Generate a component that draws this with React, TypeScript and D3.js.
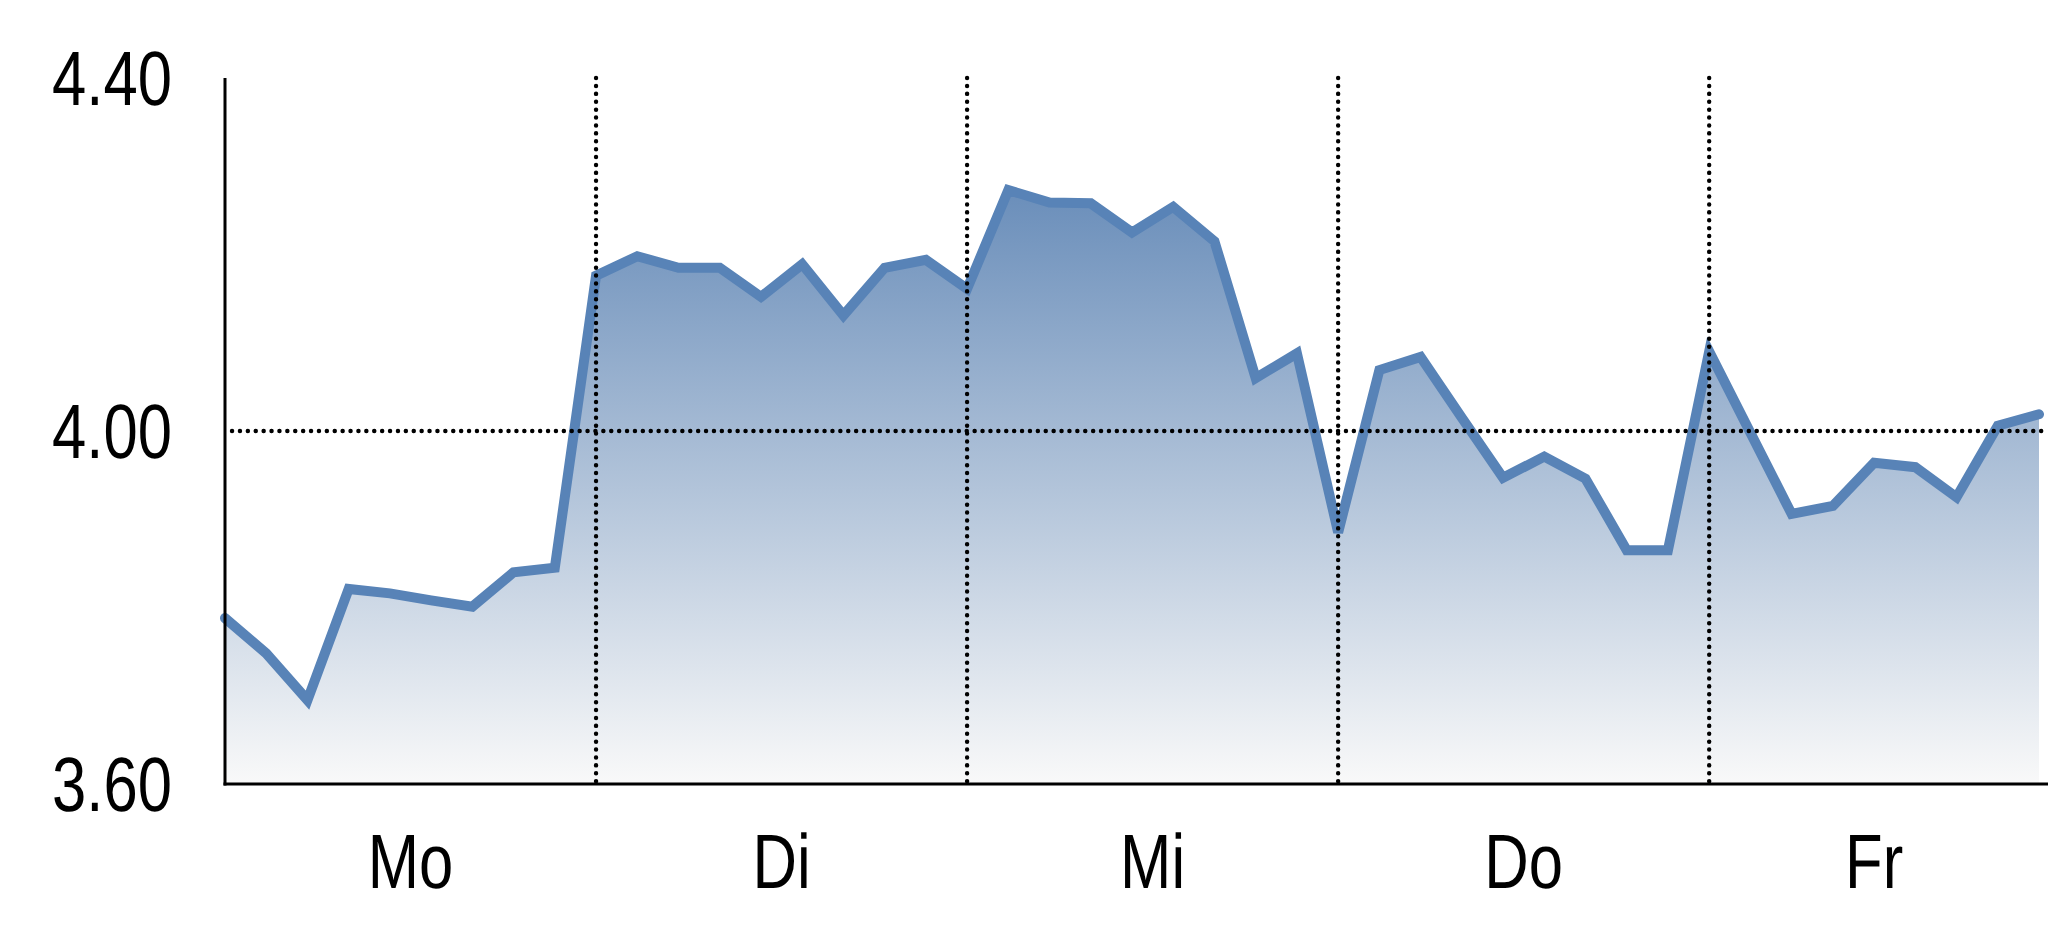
import { useEffect, useRef } from "react";
import * as d3 from "d3";

// Kursverlauf pro Wochentag (9 Werte je Tag)
const days = ["Mo", "Di", "Mi", "Do", "Fr"];
const mo = [3.788, 3.748, 3.695, 3.821, 3.816, 3.808, 3.801, 3.840, 3.845];
const di = [4.176, 4.198, 4.185, 4.185, 4.152, 4.189, 4.131, 4.185, 4.194];
const mi = [4.161, 4.273, 4.259, 4.258, 4.225, 4.254, 4.215, 4.060, 4.088];
const don = [3.885, 4.069, 4.084, 4.015, 3.947, 3.971, 3.946, 3.865, 3.865];
const fr = [4.090, 3.998, 3.906, 3.915, 3.964, 3.959, 3.925, 4.006, 4.019];
const yTicks = [3.6, 4.0, 4.4];
const yTickLabels = ["3.60", "4.00", "4.40"];
const gridValues = [4.0];

const W = 2048;
const H = 937;
const font = "'Liberation Sans', Arial, sans-serif";
// Schrift schmaler machen (Arial Narrow nicht verfuegbar)
const narrow = 0.8;

export default function App() {
  const ref = useRef<SVGSVGElement | null>(null);

  useEffect(() => {
    const svg = d3.select(ref.current);
    svg.selectAll("*").remove();

    const perDay = [mo, di, mi, don, fr];
    const values = perDay.flat();
    const n = values.length;

    const x = d3.scaleLinear().domain([0, n - 1]).range([225, 2039]);
    const y = d3.scaleLinear().domain([3.6, 4.4]).range([784, 78]);

    const defs = svg.append("defs");
    const grad = defs
      .append("linearGradient")
      .attr("id", "fillGrad")
      .attr("gradientUnits", "userSpaceOnUse")
      .attr("x1", 0)
      .attr("x2", 0)
      .attr("y1", y(d3.max(values)!))
      .attr("y2", y(3.6));
    grad.append("stop").attr("offset", 0).attr("stop-color", "#6a8eba");
    grad.append("stop").attr("offset", 1).attr("stop-color", "#f9f9f9");

    const area = d3
      .area<number>()
      .x((_, i) => x(i))
      .y0(y(3.6))
      .y1((d) => y(d));
    const line = d3
      .line<number>()
      .x((_, i) => x(i))
      .y((d) => y(d));

    svg.append("path").datum(values).attr("d", area).attr("fill", "url(#fillGrad)");
    svg
      .append("path")
      .datum(values)
      .attr("d", line)
      .attr("fill", "none")
      .attr("stroke", "#5883b7")
      .attr("stroke-width", 10)
      .attr("stroke-linejoin", "miter")
      .attr("stroke-linecap", "round");

    // Tagesgrenzen
    const bounds = perDay.slice(1).map((_, k) => perDay.slice(0, k + 1).flat().length);
    const dotted = (sel: any) =>
      sel
        .attr("stroke", "#000")
        .attr("stroke-width", 4.4)
        .attr("stroke-linecap", "round")
        .attr("stroke-dasharray", "0.1 7.8")
        .attr("fill", "none");

    svg
      .selectAll("line.vgrid")
      .data(bounds)
      .enter()
      .append("line")
      .attr("class", "vgrid")
      .attr("x1", (d) => x(d))
      .attr("x2", (d) => x(d))
      .attr("y1", y(4.4))
      .attr("y2", y(3.6))
      .call(dotted);

    svg
      .selectAll("line.hgrid")
      .data(gridValues)
      .enter()
      .append("line")
      .attr("class", "hgrid")
      .attr("x1", 232)
      .attr("x2", W - 4)
      .attr("y1", (d) => y(d))
      .attr("y2", (d) => y(d))
      .call(dotted);

    // Achsen
    svg
      .append("line")
      .attr("x1", x(0))
      .attr("x2", x(0))
      .attr("y1", y(4.4))
      .attr("y2", y(3.6) + 1.5)
      .attr("stroke", "#000")
      .attr("stroke-width", 3);
    svg
      .append("line")
      .attr("x1", x(0) - 1.5)
      .attr("x2", W)
      .attr("y1", y(3.6))
      .attr("y2", y(3.6))
      .attr("stroke", "#000")
      .attr("stroke-width", 3);

    svg
      .selectAll("text.ytick")
      .data(yTicks)
      .enter()
      .append("text")
      .attr("class", "ytick")
      .attr("transform", (d) => `translate(172,${y(d) + 27}) scale(${narrow},1)`)
      .attr("text-anchor", "end")
      .attr("font-family", font)
      .attr("font-size", 77)
      .attr("text-rendering", "geometricPrecision")
      .attr("fill", "#000")
      .text((_, i) => yTickLabels[i]);

    const starts = [0, ...bounds];
    svg
      .selectAll("text.day")
      .data(days)
      .enter()
      .append("text")
      .attr("class", "day")
      .attr("transform", (_, i) => {
        const cx = (x(starts[i]) + x(Math.min(starts[i] + perDay[i].length, n - 1))) / 2;
        return `translate(${cx},888) scale(${narrow},1)`;
      })
      .attr("text-anchor", "middle")
      .attr("font-family", font)
      .attr("font-size", 77)
      .attr("text-rendering", "geometricPrecision")
      .attr("fill", "#000")
      .text((d) => d);
  }, []);

  return (
    <svg
      ref={ref}
      width={W}
      height={H}
      style={{ position: "absolute", left: 0, top: 0, background: "#fff" }}
    />
  );
}
